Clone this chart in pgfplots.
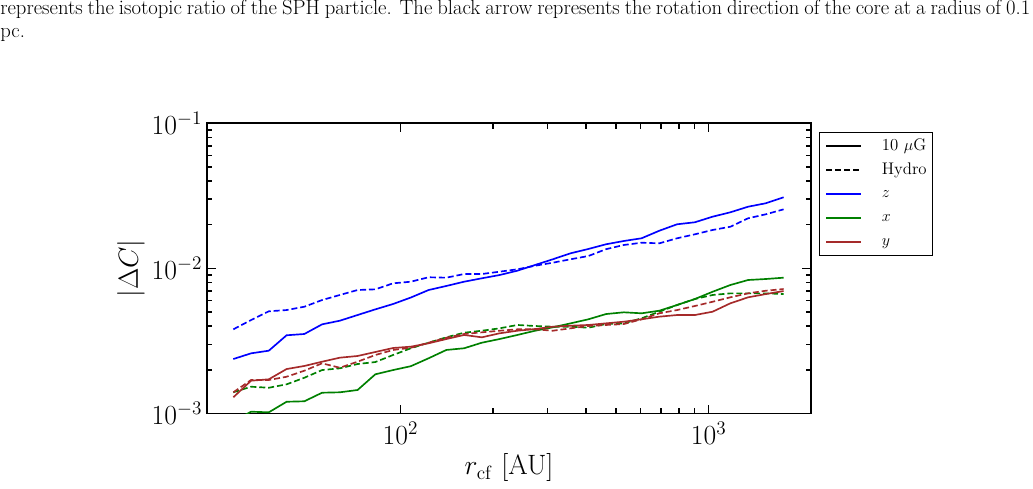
\documentclass[border=0pt]{standalone}
\usepackage{pgfplots}
\usepackage{pgfplotstable}
\pgfplotsset{compat=1.18}
\definecolor{mblue}{rgb}{0,0,1}
\definecolor{mgreen}{rgb}{0,0.5,0}
\definecolor{mred}{rgb}{0.647,0.165,0.165}

\pgfplotstableread{
x bs bd gs gd rs rd
28.73 2.374e-3 3.804e-3 8.87e-4 1.400e-3 1.294e-3 1.400e-3
32.80 2.598e-3 4.408e-3 1.029e-3 1.530e-3 1.683e-3 1.702e-3
37.45 2.710e-3 5.063e-3 1.019e-3 1.505e-3 1.721e-3 1.702e-3
42.76 3.460e-3 5.164e-3 1.205e-3 1.589e-3 2.025e-3 1.792e-3
48.82 3.532e-3 5.444e-3 1.214e-3 1.764e-3 2.126e-3 1.972e-3
55.74 4.116e-3 6.053e-3 1.391e-3 1.993e-3 2.275e-3 2.217e-3
63.64 4.361e-3 6.558e-3 1.400e-3 2.048e-3 2.425e-3 2.068e-3
72.66 4.772e-3 7.096e-3 1.452e-3 2.193e-3 2.491e-3 2.275e-3
82.96 5.221e-3 7.175e-3 1.863e-3 2.263e-3 2.654e-3 2.530e-3
94.72 5.684e-3 7.893e-3 1.993e-3 2.530e-3 2.828e-3 2.741e-3
108.15 6.300e-3 8.097e-3 2.119e-3 2.816e-3 2.888e-3 2.838e-3
123.48 7.096e-3 8.687e-3 2.402e-3 3.076e-3 3.047e-3 3.076e-3
140.98 7.568e-3 8.630e-3 2.741e-3 3.350e-3 3.260e-3 3.328e-3
160.97 8.097e-3 9.149e-3 2.816e-3 3.605e-3 3.477e-3 3.532e-3
183.79 8.547e-3 9.149e-3 3.076e-3 3.719e-3 3.350e-3 3.626e-3
209.84 9.002e-3 9.490e-3 3.260e-3 3.865e-3 3.571e-3 3.719e-3
239.58 9.643e-3 9.860e-3 3.477e-3 4.074e-3 3.719e-3 3.804e-3
273.54 1.056e-2 1.043e-2 3.719e-3 4.009e-3 3.821e-3 3.804e-3
312.31 1.156e-2 1.095e-2 3.927e-3 3.964e-3 3.964e-3 3.719e-3
356.58 1.271e-2 1.156e-2 4.182e-3 3.964e-3 4.028e-3 3.865e-3
407.13 1.361e-2 1.217e-2 4.459e-3 3.902e-3 4.074e-3 4.009e-3
464.84 1.467e-2 1.357e-2 4.848e-3 4.136e-3 4.182e-3 4.074e-3
530.73 1.545e-2 1.450e-2 4.982e-3 4.182e-3 4.292e-3 4.136e-3
605.96 1.613e-2 1.503e-2 4.904e-3 4.531e-3 4.459e-3 4.459e-3
691.85 1.819e-2 1.489e-2 5.111e-3 5.030e-3 4.649e-3 4.904e-3
789.92 2.014e-2 1.613e-2 5.593e-3 5.593e-3 4.772e-3 5.164e-3
901.89 2.079e-2 1.718e-2 6.151e-3 6.151e-3 4.772e-3 5.506e-3
1029.7 2.272e-2 1.840e-2 6.905e-3 6.558e-3 5.030e-3 5.890e-3
1175.7 2.436e-2 1.937e-2 7.686e-3 6.732e-3 5.748e-3 6.320e-3
1342.3 2.662e-2 2.215e-2 8.318e-3 6.732e-3 6.320e-3 6.732e-3
1532.6 2.812e-2 2.360e-2 8.452e-3 6.732e-3 6.656e-3 7.016e-3
1749.9 3.091e-2 2.553e-2 8.630e-3 6.656e-3 6.982e-3 7.210e-3
}\datatable

\begin{document}
\begin{tikzpicture}
\useasboundingbox (-155.25pt,-56.625pt) rectangle (619.5pt,310.125pt);
\begin{axis}[
  at={(0,0)}, anchor=south west,
  width=453pt, height=217.65pt, scale only axis,
  xmode=log, ymode=log,
  xmin=23.6, xmax=2147, ymin=1e-3, ymax=1e-1,
  ytick={1e-3,1e-2,1e-1},
  xtick={100,1000},
  axis line style={line width=1.4pt},
  tick style={line width=1.1pt, black},
  major tick length=6.75pt, minor tick length=4pt,
  tick align=inside,
  tick label style={font=\fontsize{21}{24}\selectfont},
  yticklabel style={anchor=east, inner sep=0pt, xshift=-3.5pt},
  xticklabel style={anchor=north, inner sep=0pt, yshift=-6pt},
  xlabel={$r_{\rm cf}$ [AU]},
  ylabel={$|\Delta C|$},
  label style={font=\fontsize{21}{25}\selectfont},
  xlabel style={at={([yshift=-46.1pt]rel axis cs:0.5,0)}, anchor=base, inner sep=0pt},
  ylabel style={at={([xshift=-46.5pt]rel axis cs:0,0.5)}, anchor=south, inner sep=0pt},
  legend style={at={(axis description cs:1.0138,0.971)}, anchor=north west,
    draw=black, line width=0.75pt, font=\fontsize{12.6}{14}\selectfont,
    inner xsep=4.3pt, inner ysep=5pt, row sep=6.9pt, column sep=15pt,
    nodes={inner sep=0pt, text height=8.5pt, text depth=2.5pt}},
  legend cell align=left,
  legend image code/.code={\draw[#1] (0pt,0pt) -- (26pt,0pt);},
  every axis plot/.append style={line width=1.25pt},
]
\addlegendimage{black, solid, line width=1.25pt}
\addlegendentry{10 $\mu$G}
\addlegendimage{black, dash pattern=on 4.5pt off 2.2pt, line width=1.25pt}
\addlegendentry{Hydro}
\addlegendimage{mblue, solid, line width=1.25pt}
\addlegendentry{$z$}
\addlegendimage{mgreen, solid, line width=1.25pt}
\addlegendentry{$x$}
\addlegendimage{mred, solid, line width=1.25pt}
\addlegendentry{$y$}

\addplot[mblue, forget plot] table[x=x, y=bs] {\datatable};
\addplot[mblue, dash pattern=on 4.5pt off 2.2pt, forget plot] table[x=x, y=bd] {\datatable};
\addplot[mgreen, forget plot] table[x=x, y=gs] {\datatable};
\addplot[mgreen, dash pattern=on 4.5pt off 2.2pt, forget plot] table[x=x, y=gd] {\datatable};
\addplot[mred, forget plot] table[x=x, y=rs] {\datatable};
\addplot[mred, dash pattern=on 4.5pt off 2.2pt, forget plot] table[x=x, y=rd] {\datatable};
\end{axis}
\node[anchor=base west, inner sep=0pt, font=\fontsize{15.5}{18}\selectfont] at (-155.25pt,298.875pt)
  {\makebox[772.5pt][s]{represents the isotopic ratio of the SPH particle. The black arrow represents the rotation direction of the core at a radius of 0.1}};
\node[anchor=base west, inner sep=0pt, font=\fontsize{15.5}{18}\selectfont] at (-155.25pt,282.15pt) {pc.};
\end{tikzpicture}
\end{document}
